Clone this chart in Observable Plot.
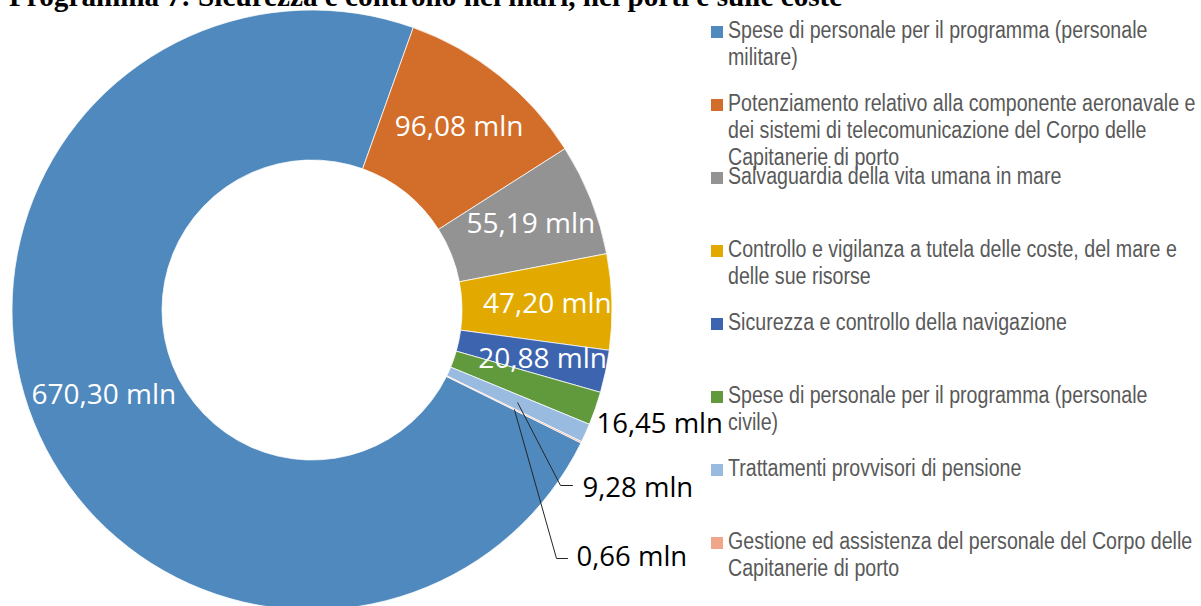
<!DOCTYPE html>
<html>
<head>
<meta charset="utf-8">
<script src="https://cdn.jsdelivr.net/npm/d3@7"></script>
<script src="https://cdn.jsdelivr.net/npm/@observablehq/plot@0.6"></script>
<style>
  html, body { margin: 0; padding: 0; background: #fff; }
  #page { position: relative; width: 1201px; height: 606px; overflow: hidden; background: #fff; }
  #title { position: absolute; left: 9px; top: -18.3px; font-family: "Liberation Serif", "Times New Roman", serif; font-weight: bold; font-size: 29.2px; line-height: 29px; white-space: nowrap; color: #000; }
  #chart { position: absolute; left: 0; top: 0; }
  .lg-item { position: absolute; left: 711px; }
  .lg-sw { position: absolute; left: 0; width: 12px; height: 12px; }
  .lg-text { position: absolute; left: 17px; font-family: "Liberation Sans", Arial, sans-serif; font-size: 23.5px; line-height: 26.7px; color: #595959; white-space: nowrap; transform: scaleX(0.834); transform-origin: 0 0; }
</style>
</head>
<body>
<div id="page">
  <div id="chart"></div>
  <div id="legend"></div>
  <div id="title"></div>
</div>
<script>
// ---------------- data ----------------
const titleText = "Programma 7: Sicurezza e controllo nei mari, nei porti e sulle coste";

const categories = [
  "Spese di personale per il programma (personale militare)",
  "Potenziamento relativo alla componente aeronavale e dei sistemi di telecomunicazione del Corpo delle Capitanerie di porto",
  "Salvaguardia della vita umana in mare",
  "Controllo e vigilanza a tutela delle coste, del mare e delle sue risorse",
  "Sicurezza e controllo della navigazione",
  "Spese di personale per il programma (personale civile)",
  "Trattamenti provvisori di pensione",
  "Gestione ed assistenza del personale del Corpo delle Capitanerie di porto"
];

const values = [670.30, 96.08, 55.19, 47.20, 20.88, 16.45, 9.28, 0.66];

const valueLabels = ["670,30 mln", "96,08 mln", "55,19 mln", "47,20 mln", "20,88 mln", "16,45 mln", "9,28 mln", "0,66 mln"];

const colors = ["#4f89bd", "#d26e2a", "#939393", "#e2aa00", "#3d64ae", "#619a3d", "#9abbe0", "#f0a688"];

// legend text broken into lines as in the original
const legendLines = [
  ["Spese di personale per il programma (personale", "militare)"],
  ["Potenziamento relativo alla componente aeronavale e", "dei sistemi di telecomunicazione del Corpo delle", "Capitanerie di porto"],
  ["Salvaguardia della vita umana in mare"],
  ["Controllo e vigilanza a tutela delle coste, del mare e", "delle sue risorse"],
  ["Sicurezza e controllo della navigazione"],
  ["Spese di personale per il programma (personale", "civile)"],
  ["Trattamenti provvisori di pensione"],
  ["Gestione ed assistenza del personale del Corpo delle", "Capitanerie di porto"]
];

// ---------------- layout ----------------
const R = 300, R0 = 150;           // outer / inner radius (px units of the scales)
const startDeg = 116.3;            // first slice angle (clockwise from 12 o'clock)
const insideR = 235;               // radius of inside labels for narrow slices
const centroidR = (R + R0) / 2;

const rows = values.map((v, i) => ({category: categories[i], value: v, label: valueLabels[i], color: colors[i]}));
const a0 = startDeg * Math.PI / 180;
const arcs = d3.pie().sort(null).value(d => d.value).startAngle(a0).endAngle(a0 + 2 * Math.PI)(rows);
const mid = a => (a.startAngle + a.endAngle) / 2;
const px = (ang, rad) => rad * Math.sin(ang);
const py = (ang, rad) => -rad * Math.cos(ang);
const labelR = a => (a.endAngle - a.startAngle > Math.PI ? centroidR : insideR);

// inside labels (first five slices)
const insideLabels = arcs.slice(0, 5).map(a => ({x: px(mid(a), labelR(a)), y: py(mid(a), labelR(a)), text: a.data.label}));

// outside labels: offsets (px) relative to the donut centre, with optional leader
const outsidePlacement = {
  5: {text: [284, 114]},
  6: {elbow: [248, 175], end: [260, 175], text: [270, 178]},
  7: {elbow: [244, 248], end: [255, 248], text: [264, 247]}
};
const outsideLabels = Object.entries(outsidePlacement).map(([i, p]) => ({x: p.text[0], y: p.text[1], text: arcs[+i].data.label}));
const leaders = [];
Object.entries(outsidePlacement).forEach(([i, p]) => {
  if (!p.elbow) return;
  const a = arcs[+i];
  leaders.push({k: i, x: px(mid(a), centroidR), y: py(mid(a), centroidR)});
  leaders.push({k: i, x: p.elbow[0], y: p.elbow[1]});
  leaders.push({k: i, x: p.end[0], y: p.end[1]});
});

// donut render mark
const arcGen = d3.arc();
function donut(index, scales) {
  const cx = scales.x(0), cy = scales.y(0);
  const k = scales.x(1) - scales.x(0);
  const g = d3.create("svg:g").attr("transform", `translate(${cx},${cy})`);
  g.selectAll("path").data(arcs).join("path")
    .attr("d", d => arcGen({innerRadius: R0 * k, outerRadius: R * k, startAngle: d.startAngle, endAngle: d.endAngle}))
    .attr("fill", d => d.data.color)
    .attr("stroke", "#fff")
    .attr("stroke-width", 0.75);
  return g.node();
}

const chart = Plot.plot({
  width: 700,
  height: 606,
  margin: 0,
  x: {domain: [-312, 388], range: [0, 700], axis: null},
  y: {domain: [-310, 296], range: [0, 606], axis: null},
  style: {background: "transparent", overflow: "visible"},
  marks: [
    donut,
    Plot.line(leaders, {x: "x", y: "y", z: "k", stroke: "#262626", strokeWidth: 1}),
    Plot.text(insideLabels, {x: "x", y: "y", text: "text", fill: "#fff", fontSize: 28, fontFamily: "Open Sans", textAnchor: "middle", lineAnchor: "middle"}),
    Plot.text(outsideLabels, {x: "x", y: "y", text: "text", fill: "#000", fontSize: 27.5, fontFamily: "Open Sans", textAnchor: "start", lineAnchor: "middle"})
  ]
});
document.getElementById("chart").appendChild(chart);

document.getElementById("title").textContent = titleText;

// legend
const legend = document.getElementById("legend");
const lineH = 26.7, firstCenter = 30.6, step = 73;
legendLines.forEach((lines, i) => {
  const item = document.createElement("div");
  item.className = "lg-item";
  const c = firstCenter + step * i;
  item.style.top = (c - lineH / 2) + "px";
  const sw = document.createElement("div");
  sw.className = "lg-sw";
  sw.style.background = colors[i];
  sw.style.top = (lineH / 2 - 6 + 1) + "px";
  const tx = document.createElement("div");
  tx.className = "lg-text";
  tx.innerHTML = lines.map(s => s.replace(/&/g, "&amp;").replace(/</g, "&lt;")).join("<br>");
  item.appendChild(sw);
  item.appendChild(tx);
  legend.appendChild(item);
});
</script>
</body>
</html>
